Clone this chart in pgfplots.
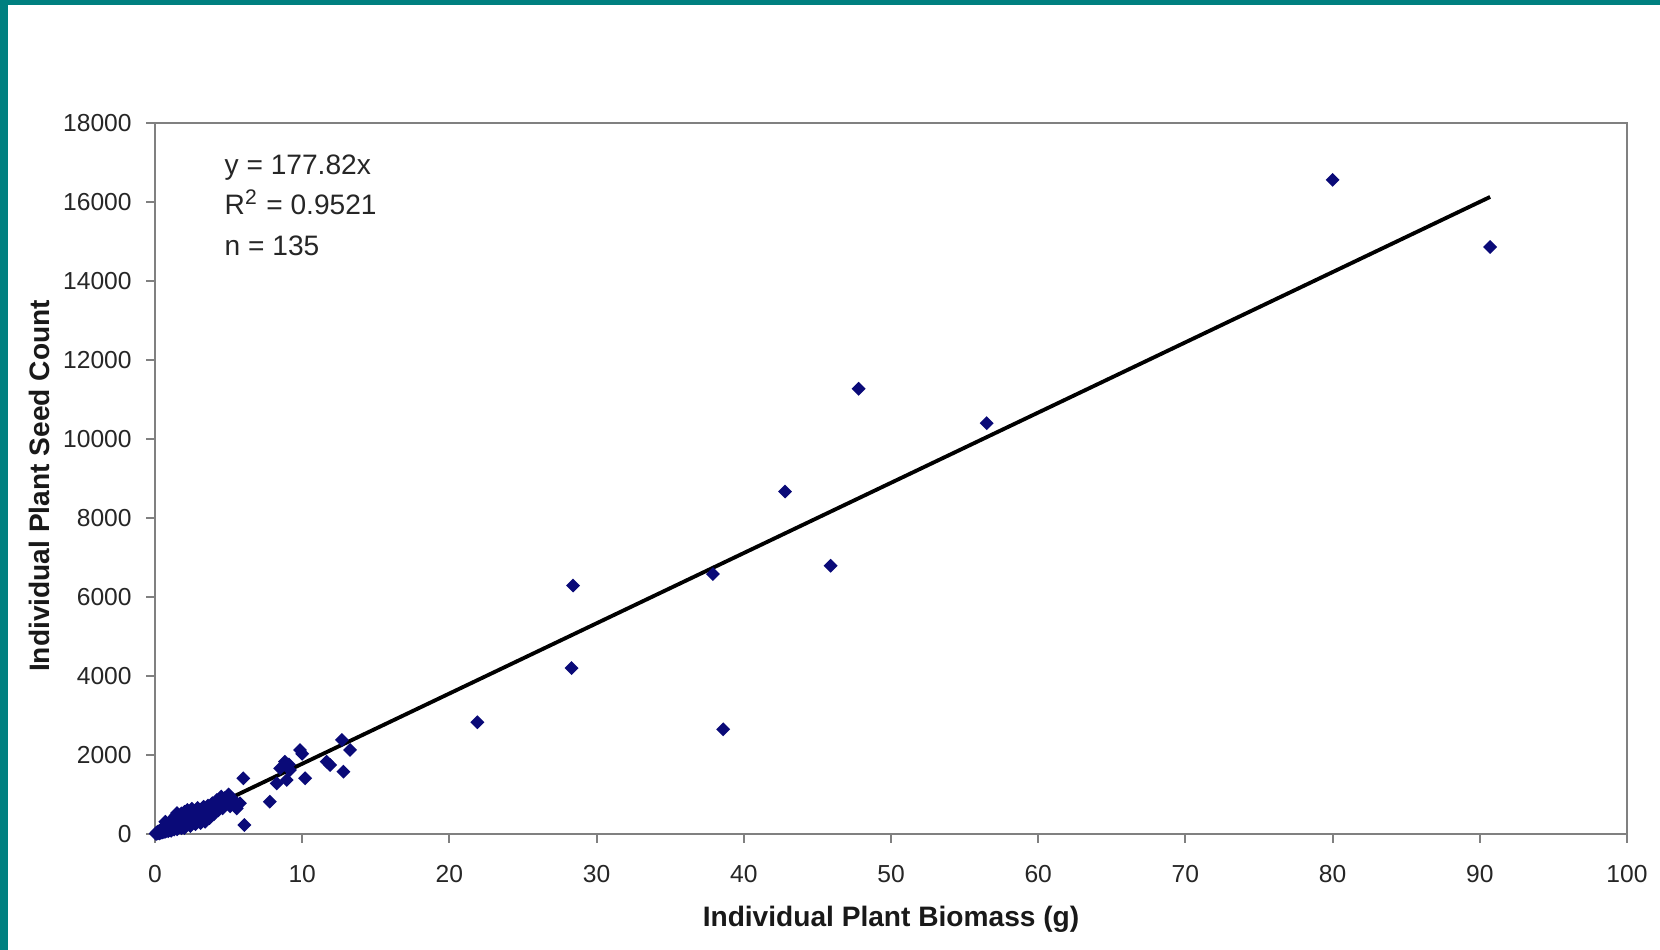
\documentclass[border=0pt]{standalone}
\usepackage{pgfplots}
\pgfplotsset{compat=1.18}
\usepackage{fontspec}
\setmainfont{Liberation Sans}
\definecolor{frameteal}{RGB}{0,128,128}
\definecolor{navy}{RGB}{10,10,120}
\definecolor{axgray}{RGB}{128,128,128}
\begin{document}
\begin{tikzpicture}
\useasboundingbox (0,0) rectangle (16.6,9.5);
\fill[white] (0,0) rectangle (16.6,9.5);
\fill[frameteal] (0,0) rectangle (0.08,9.5);
\fill[frameteal] (0,9.45) rectangle (16.6,9.5);
\begin{axis}[
  at={(1.55cm,1.16cm)}, anchor=south west,
  scale only axis, width=14.72cm, height=7.11cm,
  xmin=0, xmax=100, ymin=0, ymax=18000,
  xtick={0,10,...,100}, ytick={0,2000,...,18000},
  xtick pos=bottom, ytick pos=left, tick align=outside,
  major tick length=0.09cm,
  axis line style={axgray, line width=0.6pt},
  tick style={axgray, line width=0.6pt},
  scaled y ticks=false,
  /pgf/number format/assume math mode=true,
  /pgf/number format/1000 sep={},
  tick label style={font=\fontsize{7}{8}\selectfont, text=black!85},
  xticklabel style={yshift=-0.1cm},
  yticklabel style={xshift=-0.02cm},
  xlabel={\bfseries Individual Plant Biomass (g)},
  ylabel={\bfseries Individual Plant Seed Count},
  label style={font=\fontsize{8}{9.6}\selectfont, text=black!90},
  xlabel style={at={(axis description cs:0.5,-0.1195)}, anchor=center},
  ylabel style={at={(axis description cs:-0.0788,0.4895)}, anchor=center, rotate=0},
  clip=false,
]
\addplot[only marks, mark=square*, mark size=1.2pt, mark options={rotate=45, fill=navy, draw=navy}] coordinates {
(80.0,16560) (90.7,14860) (28.4,6290) (28.3,4200) (21.9,2830) (37.9,6580) (38.6,2650)
(47.8,11270) (56.5,10400) (42.8,8670) (45.9,6790)
(6.0,1410) (9.85,2127) (8.83,1830) (8.5,1662) (9.17,1620) (8.27,1283) (8.95,1367)
(10.2,1410) (7.8,818) (11.66,1831) (11.9,1747) (12.8,1578) (12.7,2380) (13.25,2127)
(5.77,776) (5.55,649) (6.07,228) (5.43,818) (9.1,1760) (10.0,2030)
(0.05,10) (0.1,5) (0.1,30) (0.15,15) (0.15,45) (0.2,20) (0.2,60) (0.25,35) (0.3,15) (0.3,80)
(0.35,50) (0.4,30) (0.4,110) (0.45,70) (0.5,40) (0.5,140) (0.55,90) (0.6,50) (0.6,170) (0.65,110)
(0.7,60) (0.7,310) (0.75,150) (0.8,80) (0.8,220) (0.85,130) (0.9,70) (0.9,260) (0.95,180) (1.0,100)
(1.0,290) (1.05,160) (1.1,80) (1.1,340) (1.15,220) (1.2,120) (1.2,380) (1.25,200) (1.3,110) (1.3,420)
(1.35,260) (1.4,150) (1.4,470) (1.45,300) (1.5,120) (1.5,530) (1.55,230) (1.6,380) (1.65,180) (1.7,450)
(1.75,280) (1.8,150) (1.8,520) (1.85,340) (1.9,230) (1.95,420) (2.0,150) (2.0,560) (2.05,300) (2.1,470)
(2.2,608) (2.2,250) (2.3,380) (2.35,520) (2.4,200) (2.5,450) (2.5,640) (2.6,320) (2.7,560) (2.75,250)
(2.8,430) (2.9,660) (3.0,350) (3.0,540) (3.1,280) (3.2,620) (3.3,690) (3.3,440) (3.4,310) (3.5,560)
(3.6,720) (3.7,400) (3.8,620) (3.9,780) (4.0,500) (4.1,680) (4.2,860) (4.3,600) (4.4,760) (4.5,950)
(4.6,650) (4.75,911) (4.9,800) (5.0,1000) (5.1,700) (5.3,880) (2.45,380) (1.25,330) (0.85,200) (3.55,480)
(2.15,350) (2.65,470) (3.15,520)
};
\addplot[black, line width=1.1pt] coordinates {(0,0) (90.7,16128)};
\node[anchor=base west, inner sep=0pt, font=\fontsize{8}{9.6}\selectfont, text=black!85] at (axis description cs:0.0469,0.9269) {y = 177.82x};
\node[anchor=base west, inner sep=0pt, font=\fontsize{8}{9.6}\selectfont, text=black!85] at (axis description cs:0.0469,0.8720) {R\textsuperscript{2} = 0.9521};
\node[anchor=base west, inner sep=0pt, font=\fontsize{8}{9.6}\selectfont, text=black!85] at (axis description cs:0.0469,0.8136) {n = 135};
\end{axis}
\end{tikzpicture}
\end{document}
